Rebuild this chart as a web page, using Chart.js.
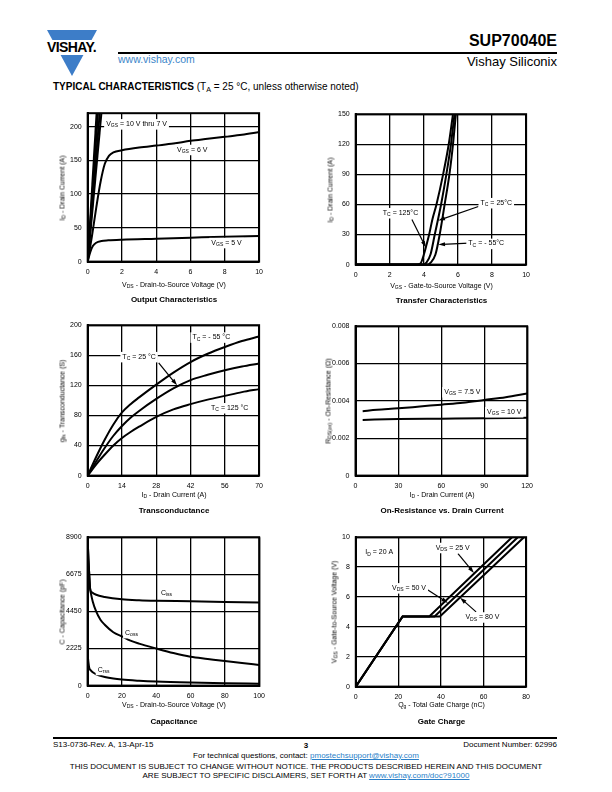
<!DOCTYPE html>
<html>
<head>
<meta charset="utf-8">
<script src="https://cdn.jsdelivr.net/npm/chart.js@4.4.1/dist/chart.umd.min.js"></script>
<style>
body { margin:0; width:612px; height:792px; position:relative; background:#fff; color:#000;
       font-family:"Liberation Sans", Arial, sans-serif; overflow:hidden; }
.abs { position:absolute; white-space:nowrap; }
sub { font-size:72%; vertical-align:-0.25em; line-height:0; }
.axt { font-size:7px; }
.cap { font-size:8px; font-weight:bold; }
.foot { font-size:8px; }
a { color:#2a7fc9; }
</style>
</head>
<body>

<div class="abs" style="left:47px;top:30px;width:50px;height:46px;background:#3d7dc8;clip-path:polygon(0 0,100% 0,50% 100%)"></div>
<div class="abs" style="left:44px;top:40px;width:56px;height:15px;background:#fff"></div>
<div class="abs" style="left:47px;top:39px;font-size:14px;font-weight:bold;letter-spacing:-0.6px">VISHAY.</div>
<div class="abs" style="right:55px;top:32px;font-size:16px;font-weight:bold">SUP70040E</div>
<div class="abs" style="left:118px;top:52px;width:439px;height:1.5px;background:#000"></div>
<div class="abs" style="left:118px;top:53px;font-size:10.5px;color:#3d85c9">www.vishay.com</div>
<div class="abs" style="right:55px;top:54px;font-size:13px">Vishay Siliconix</div>
<div class="abs" style="left:53px;top:81px;font-size:10px"><b>TYPICAL CHARACTERISTICS</b> (T<sub>A</sub> = 25 °C, unless otherwise noted)</div>

<div class="abs" style="left:53px;top:737px;width:504px;height:1.5px;background:#000"></div>
<div class="abs foot" style="left:53px;top:740px">S13-0736-Rev. A, 13-Apr-15</div>
<div class="abs foot" style="left:306px;top:741px;transform:translateX(-50%);font-weight:bold">3</div>
<div class="abs foot" style="right:55px;top:740px">Document Number: 62996</div>
<div class="abs foot" style="left:306px;top:751px;transform:translateX(-50%)">For technical questions, contact: <a href="#">pmostechsupport@vishay.com</a></div>
<div class="abs foot" style="left:306px;top:762px;transform:translateX(-50%)">THIS DOCUMENT IS SUBJECT TO CHANGE WITHOUT NOTICE. THE PRODUCTS DESCRIBED HEREIN AND THIS DOCUMENT</div>
<div class="abs foot" style="left:306px;top:771px;transform:translateX(-50%)">ARE SUBJECT TO SPECIFIC DISCLAIMERS, SET FORTH AT <a href="#">www.vishay.com/doc?91000</a></div>

<script>
const FONT = '"Liberation Sans", Arial, sans-serif';

// Output characteristics
const outXTicks = [0, 2, 4, 6, 8, 10];
const outYTicks = [0, 50, 100, 150, 200];
const out10V = [0, 0.52];
const out10I = [0, 220];
const out9V = [0, 0.6];
const out9I = [0, 220];
const out8V = [0, 0.7];
const out8I = [0, 220];
const out7V = [0, 0.8];
const out7I = [0, 220];
const out6V = [0, 0.25, 0.5, 0.75, 1.0, 1.25, 1.5, 2, 3, 4, 5, 6, 7, 8, 9, 10];
const out6I = [0, 38, 80, 118, 145, 157, 162, 165, 169, 172, 175, 179, 182, 185, 188, 192];
const out5V = [0, 0.15, 0.3, 0.5, 0.8, 1.2, 2, 4, 6, 8, 10];
const out5I = [0, 14, 23, 28, 30.5, 31.5, 32.5, 34, 35.5, 37, 38];

// Transfer characteristics
const trXTicks = [0, 2, 4, 6, 8, 10];
const trYTicks = [0, 30, 60, 90, 120, 150];
const tr125V = [0, 3.6, 3.8, 4.0, 4.16, 4.31, 4.5, 4.74, 5.13, 5.46, 5.71, 5.78];
const tr125I = [0, 0, 1, 10, 20, 30, 45, 60, 90, 120, 150, 158];
const tr25V = [0, 3.9, 4.15, 4.39, 4.64, 5.01, 5.32, 5.59, 5.80, 5.86];
const tr25I = [0, 0, 2, 10, 30, 60, 90, 120, 150, 158];
const trM55V = [0, 4.2, 4.4, 4.68, 4.93, 5.22, 5.50, 5.71, 5.88, 5.93];
const trM55I = [0, 0, 2, 10, 30, 60, 90, 120, 150, 158];

// Transconductance
const gfsXTicks = [0, 14, 28, 42, 56, 70];
const gfsYTicks = [0, 40, 80, 120, 160, 200];
const gfsId = [0, 3.5, 7, 10.5, 14, 17.5, 21, 28, 35, 42, 49, 56, 63, 70];
const gfsM55 = [0, 25, 48, 68, 84, 95, 104, 121, 137, 151, 162, 171, 179, 185];
const gfs25 = [0, 19, 37, 53, 66, 77, 86, 102, 116, 127, 134, 140, 145, 149];
const gfs125 = [0, 15, 28, 40, 50, 58, 65, 78, 88, 95, 101, 106, 111, 115];

// On-resistance vs drain current
const ronXTicks = [0, 30, 60, 90, 120];
const ronYTicks = [0, 0.002, 0.004, 0.006, 0.008];
const ron75Id = [5, 15, 30, 45, 60, 75, 90, 105, 120];
const ron75R = [0.00345, 0.00352, 0.0036, 0.0037, 0.0038, 0.0039, 0.00405, 0.0042, 0.0044];
const ron10Id = [5, 30, 60, 90, 120];
const ron10R = [0.00298, 0.00303, 0.00305, 0.00307, 0.0031];

// Capacitance
const capXTicks = [0, 20, 40, 60, 80, 100];
const capYTicks = [0, 2225, 4450, 6675, 8900];
const cissV = [0, 0.5, 1, 1.5, 2.5, 5, 10, 20, 30, 40, 60, 80, 100];
const cissC = [8900, 7600, 6600, 5800, 5600, 5450, 5320, 5180, 5120, 5090, 5060, 5020, 4980];
const cossV = [0, 0.5, 1, 1.5, 2, 3, 5, 7.5, 10, 15, 20, 25, 30, 40, 50, 60, 70, 80, 90, 100];
const cossC = [8900, 7600, 6600, 5800, 5500, 5050, 4450, 3950, 3650, 3200, 2950, 2700, 2520, 2225, 1950, 1730, 1600, 1470, 1350, 1240];
const crssV = [0, 0.5, 1, 2, 3, 5, 10, 15, 20, 30, 40, 60, 80, 100];
const crssC = [1900, 1400, 1050, 900, 800, 680, 520, 420, 360, 290, 240, 180, 140, 110];

// Gate charge
const gcXTicks = [0, 20, 40, 60, 80];
const gcYTicks = [0, 2, 4, 6, 8, 10];
const gc25Q = [0, 22, 34.5, 73.4];
const gc25V = [0, 4.7, 4.7, 10];
const gc50Q = [0, 22, 37, 76.1];
const gc50V = [0, 4.7, 4.7, 10];
const gc80Q = [0, 22, 39.5, 79.0];
const gc80V = [0, 4.7, 4.7, 10];

function pts(xs, ys) { return xs.map((x, i) => ({x: x, y: ys[i]})); }

function curve(xs, ys, smooth) {
    return {
        data: pts(xs, ys),
        borderColor: '#000',
        borderWidth: 2,
        pointRadius: 0,
        fill: false,
        showLine: true,
        tension: 0,
        cubicInterpolationMode: smooth ? 'monotone' : 'default'
    };
}

function parseRich(s) {
    const segs = [];
    const re = /_\{([^}]*)\}/g;
    let last = 0, m;
    while ((m = re.exec(s))) {
        if (m.index > last) segs.push({t: s.slice(last, m.index), sub: false});
        segs.push({t: m[1], sub: true});
        last = re.lastIndex;
    }
    if (last < s.length) segs.push({t: s.slice(last), sub: false});
    return segs;
}

function richHtml(s) {
    return parseRich(s).map(g => g.sub ? `<sub>${g.t}</sub>` : g.t).join('');
}

function drawRich(ctx, s, cx, cy, size) {
    const segs = parseRich(s);
    let w = 0;
    segs.forEach(g => {
        ctx.font = (g.sub ? size * 0.72 : size) + 'px ' + FONT;
        g.w = ctx.measureText(g.t).width;
        w += g.w;
    });
    let x = cx - w / 2;
    ctx.fillStyle = '#fff';
    ctx.fillRect(x - 2, cy - size * 0.7, w + 4, size * 1.5);
    ctx.fillStyle = '#000';
    ctx.textBaseline = 'middle';
    ctx.textAlign = 'left';
    segs.forEach(g => {
        ctx.font = (g.sub ? size * 0.72 : size) + 'px ' + FONT;
        ctx.fillText(g.t, x, cy + (g.sub ? size * 0.3 : 0));
        x += g.w;
    });
}

const notesPlugin = {
    id: 'notes',
    afterDatasetsDraw(chart, args, opts) {
        const ctx = chart.ctx, sx = chart.scales.x, sy = chart.scales.y;
        ctx.save();
        (opts.arrows || []).forEach(a => {
            const x1 = sx.getPixelForValue(a[0]), y1 = sy.getPixelForValue(a[1]);
            const x2 = sx.getPixelForValue(a[2]), y2 = sy.getPixelForValue(a[3]);
            const ang = Math.atan2(y2 - y1, x2 - x1);
            ctx.strokeStyle = '#000';
            ctx.lineWidth = 1.2;
            ctx.beginPath();
            ctx.moveTo(x1, y1);
            ctx.lineTo(x2 - 4 * Math.cos(ang), y2 - 4 * Math.sin(ang));
            ctx.stroke();
            ctx.beginPath();
            ctx.moveTo(x2, y2);
            ctx.lineTo(x2 - 7 * Math.cos(ang - 0.3), y2 - 7 * Math.sin(ang - 0.3));
            ctx.lineTo(x2 - 7 * Math.cos(ang + 0.3), y2 - 7 * Math.sin(ang + 0.3));
            ctx.closePath();
            ctx.fillStyle = '#000';
            ctx.fill();
        });
        (opts.labels || []).forEach(l => {
            drawRich(ctx, l[2], sx.getPixelForValue(l[0]), sy.getPixelForValue(l[1]), 7);
        });
        ctx.restore();
    }
};

const framePlugin = {
    id: 'frame',
    afterDraw(chart) {
        const a = chart.chartArea, ctx = chart.ctx;
        ctx.save();
        ctx.strokeStyle = '#000';
        ctx.lineWidth = 2;
        ctx.strokeRect(a.left, a.top, a.right - a.left, a.bottom - a.top);
        ctx.restore();
    }
};

function axis(min, max, ticks) {
    return {
        type: 'linear',
        min: min,
        max: max,
        border: {display: true, color: '#000', width: 2},
        grid: {color: '#000', lineWidth: 1.3, drawTicks: false},
        afterBuildTicks: s => { s.ticks = ticks.map(v => ({value: v})); },
        ticks: {
            color: '#000',
            font: {family: FONT, size: 7},
            padding: 6,
            maxRotation: 0,
            autoSkip: false,
            callback: v => String(v)
        }
    };
}

function config(datasets, xs, ys, notes) {
    return {
        type: 'scatter',
        data: {datasets: datasets},
        options: {
            responsive: false,
            maintainAspectRatio: false,
            animation: false,
            events: [],
            layout: {padding: 0},
            plugins: {legend: {display: false}, tooltip: {enabled: false}, notes: notes},
            scales: {x: xs, y: ys}
        },
        plugins: [notesPlugin, framePlugin]
    };
}

// place a chart so that its plot area sits at p.l, p.t with size p.w x p.h
function place(p, build) {
    let W = p.w + 50, H = p.h + 30, chart = null, box = null;
    for (let pass = 0; pass < 2; pass++) {
        if (chart) { chart.destroy(); box.remove(); }
        box = document.createElement('div');
        box.className = 'abs';
        const cv = document.createElement('canvas');
        cv.width = W;
        cv.height = H;
        box.appendChild(cv);
        document.body.appendChild(box);
        chart = new Chart(cv, build());
        const a = chart.chartArea;
        if (pass === 0) {
            W += p.w - (a.right - a.left);
            H += p.h - (a.bottom - a.top);
        } else {
            box.style.left = (p.l - a.left) + 'px';
            box.style.top = (p.t - a.top) + 'px';
        }
    }
    const add = (html, cls, x, y, rot) => {
        const d = document.createElement('div');
        d.className = 'abs ' + cls;
        d.innerHTML = html;
        d.style.left = x + 'px';
        d.style.top = y + 'px';
        d.style.transform = 'translate(-50%,-50%)' + (rot ? ' rotate(-90deg)' : '');
        document.body.appendChild(d);
    };
    add(richHtml(p.xt), 'axt', p.l + p.w / 2, p.t + p.h + p.xo);
    add(richHtml(p.cap), 'cap', p.l + p.w / 2, p.t + p.h + p.co);
    add(richHtml(p.yt), 'axt', p.yx, p.t + p.h / 2, true);
}

place({l: 88, t: 113, w: 172, h: 149, xo: 22, co: 37, yx: 62,
       xt: 'V_{DS} - Drain-to-Source Voltage (V)', yt: 'I_{D} - Drain Current (A)', cap: 'Output Characteristics'},
    () => config([
        curve(out10V, out10I), curve(out9V, out9I), curve(out8V, out8I), curve(out7V, out7I),
        curve(out6V, out6I, true), curve(out5V, out5I, true)
    ], axis(0, 10, outXTicks), axis(0, 220, outYTicks), {
        labels: [[2.85, 204, 'V_{GS} = 10 V thru 7 V'], [6.1, 166, 'V_{GS} = 6 V'], [8.1, 28, 'V_{GS} = 5 V']]
    }));

place({l: 356, t: 114, w: 171, h: 151, xo: 20, co: 35, yx: 330,
       xt: 'V_{GS} - Gate-to-Source Voltage (V)', yt: 'I_{D} - Drain Current (A)', cap: 'Transfer Characteristics'},
    () => config([
        curve(tr125V, tr125I, true), curve(tr25V, tr25I, true), curve(trM55V, trM55I, true)
    ], axis(0, 10, trXTicks), axis(0, 150, trYTicks), {
        labels: [[2.63, 51.6, 'T_{C} = 125°C'], [8.25, 61.6, 'T_{C} = 25°C'], [7.66, 21, 'T_{C} = - 55°C']],
        arrows: [[3.3, 45, 4.12, 17], [7.2, 58, 4.85, 44], [6.65, 21.5, 4.85, 20]]
    }));

place({l: 88, t: 325, w: 172, h: 151, xo: 18, co: 34, yx: 62,
       xt: 'I_{D} - Drain Current (A)', yt: 'g_{fs} - Transconductance (S)', cap: 'Transconductance'},
    () => config([
        curve(gfsId, gfsM55, true), curve(gfsId, gfs25, true), curve(gfsId, gfs125, true)
    ], axis(0, 70, gfsXTicks), axis(0, 200, gfsYTicks), {
        labels: [[50.5, 184, 'T_{C} = - 55 °C'], [21, 158, 'T_{C} = 25 °C'], [58, 90, 'T_{C} = 125 °C']],
        arrows: [[29, 150, 36.5, 120]]
    }));

place({l: 356, t: 326, w: 172, h: 150, xo: 18, co: 34, yx: 328,
       xt: 'I_{D} - Drain Current (A)', yt: 'R_{DS(on)} - On-Resistance (Ω)', cap: 'On-Resistance vs. Drain Current'},
    () => config([
        curve(ron75Id, ron75R, true), curve(ron10Id, ron10R, true)
    ], axis(0, 120, ronXTicks), axis(0, 0.008, ronYTicks), {
        labels: [[74.7, 0.00448, 'V_{GS} = 7.5 V'], [104, 0.00341, 'V_{GS} = 10 V']]
    }));

place({l: 88, t: 537, w: 172, h: 149, xo: 18, co: 35, yx: 62,
       xt: 'V_{DS} - Drain-to-Source Voltage (V)', yt: 'C - Capacitance (pF)', cap: 'Capacitance'},
    () => config([
        curve(cissV, cissC, true), curve(cossV, cossC, true), curve(crssV, crssC, true)
    ], axis(0, 100, capXTicks), axis(0, 8900, capYTicks), {
        labels: [[46, 5555, 'C_{iss}'], [25.6, 3166, 'C_{oss}'], [9.3, 956, 'C_{rss}']]
    }));

place({l: 356, t: 537, w: 171, h: 150, xo: 17, co: 34, yx: 334,
       xt: 'Q_{g} - Total Gate Charge (nC)', yt: 'V_{GS} - Gate-to-Source Voltage (V)', cap: 'Gate Charge'},
    () => config([
        curve(gc25Q, gc25V), curve(gc50Q, gc50V), curve(gc80Q, gc80V)
    ], axis(0, 80, gcXTicks), axis(0, 10, gcYTicks), {
        labels: [[11, 9.0, 'I_{D} = 20 A'], [45.5, 9.3, 'V_{DS} = 25 V'], [25, 6.6, 'V_{DS} = 50 V'], [59.5, 4.65, 'V_{DS} = 80 V']],
        arrows: [[48, 8.9, 55.5, 7.6], [33.5, 6.5, 43.3, 5.6], [56.5, 5.0, 49, 5.95]]
    }));
</script>
</body>
</html>
